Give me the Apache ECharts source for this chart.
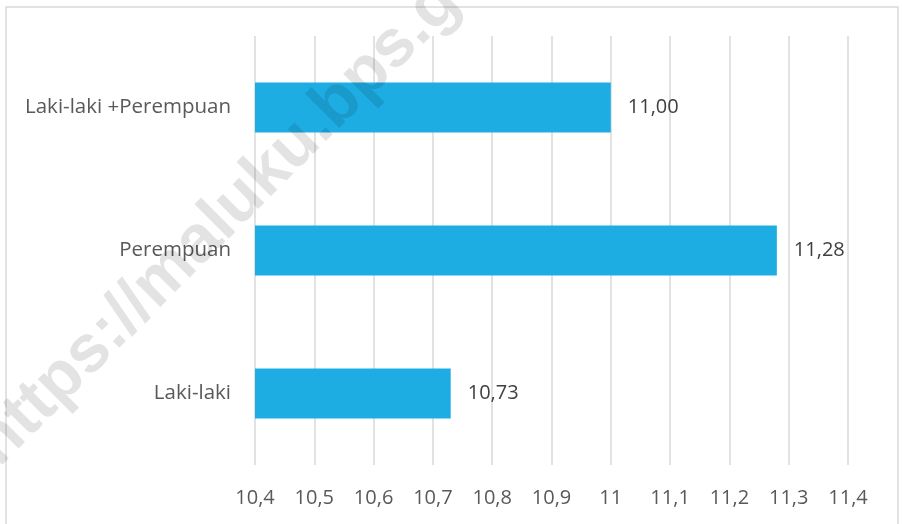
<!DOCTYPE html>
<html>
<head>
<meta charset="utf-8">
<script src="https://cdn.jsdelivr.net/npm/echarts@6/dist/echarts.min.js"></script>
<style>html,body{margin:0;padding:0;background:#fff}#c{width:902px;height:524px}</style>
</head>
<body>
<div id="c"></div>
<script>
var categories = ["Laki-laki +Perempuan", "Perempuan", "Laki-laki"];
var values = [11.00, 11.28, 10.73];
var tickMin = 10.4, tickMax = 11.4, tickStep = 0.1;

var chart = echarts.init(document.getElementById('c'));
var font = '"Open Sans", sans-serif';
chart.setOption({
  animation: false,
  backgroundColor: '#fff',
  grid: {left: 255, right: 54, top: 36, bottom: 59},
  xAxis: {
    type: 'value', min: tickMin, max: tickMax, interval: tickStep,
    axisLine: {show: false}, axisTick: {show: false},
    splitLine: {lineStyle: {color: '#d9d9d9', width: 1.5}},
    axisLabel: {color: '#595959', fontSize: 20, fontFamily: font, margin: 23,
      formatter: function (v) { return String(Math.round(v * 10) / 10).replace('.', ','); }}
  },
  yAxis: {
    type: 'category', data: categories, inverse: true,
    axisLine: {show: false}, axisTick: {show: false},
    axisLabel: {color: '#595959', fontSize: 20.5, fontFamily: font, margin: 24}
  },
  series: [{
    type: 'bar', data: values, barWidth: 50,
    itemStyle: {color: '#1eade3'},
    label: {show: true, position: 'right', distance: 17, color: '#404040', fontSize: 20, fontFamily: font,
      formatter: function (p) { return p.value.toFixed(2).replace('.', ','); }}
  }],
  graphic: [
    {type: 'rect', shape: {x: 6, y: 7, width: 892, height: 530}, style: {fill: 'none', stroke: '#d9d9d9', lineWidth: 1.5}, z: 0},
    {type: 'text', x: -14, y: 455, rotation: Math.PI / 4, z: 100,
      style: {text: 'https://maluku.bps.go.id', fill: 'rgba(0,0,0,0.11)', font: 'bold 67px "Liberation Sans", Arial, sans-serif', align: 'left', verticalAlign: 'middle'}}
  ]
});
</script>
</body>
</html>
